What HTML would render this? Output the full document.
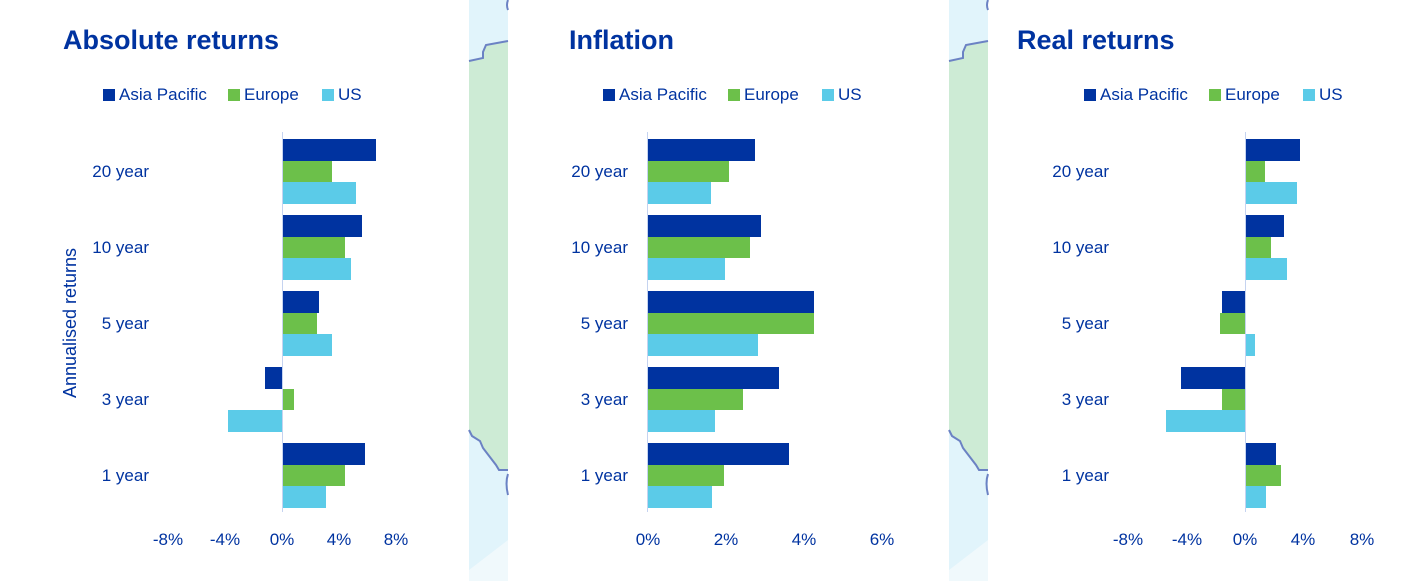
<!DOCTYPE html>
<html><head><meta charset="utf-8"><style>
body{margin:0;background:#fff;width:1422px;height:581px;overflow:hidden}
svg text{font-family:"Liberation Sans","DejaVu Sans",sans-serif;fill:#0033a0}
</style></head><body>
<svg width="1422" height="581" xmlns="http://www.w3.org/2000/svg">
<defs>
<g id="strip">
<rect x="469" y="0" width="39" height="581" fill="#e1f4fb"/>
<path d="M469 61 L483 58 L483 52 L486 45 L508 41 L508 470 L499 470 L496 465 L483 448 L480 441 L472 436 L469 430 Z" fill="#cdebd5"/>
<path d="M469 61 L483 58 L483 52 L486 45 L508 41" fill="none" stroke="#6b82c4" stroke-width="2"/>
<path d="M469 430 L472 436 L480 441 L483 448 L496 465 L499 470 L508 470" fill="none" stroke="#6b82c4" stroke-width="2"/>
<path d="M508 500 L508 540 L469 570 L469 581 L508 581 Z" fill="#f0f9fc"/>
<path d="M508 474 Q505 483 508 495" fill="none" stroke="#6b82c4" stroke-width="2"/>
<path d="M508 0 Q506 5 508 10" fill="none" stroke="#6b82c4" stroke-width="2"/>
</g>
</defs>
<use href="#strip"/>
<use href="#strip" transform="translate(480,0)"/>

<!-- titles -->
<text x="63" y="49" font-size="27" font-weight="bold">Absolute returns</text>
<text x="569" y="49" font-size="27" font-weight="bold">Inflation</text>
<text x="1017" y="49" font-size="27" font-weight="bold">Real returns</text>

<!-- legends -->
<g font-size="17">
<rect x="103" y="89" width="12" height="12" fill="#0033a0"/><text x="119" y="100">Asia Pacific</text>
<rect x="228" y="89" width="12" height="12" fill="#6cc04a"/><text x="244" y="100">Europe</text>
<rect x="322" y="89" width="12" height="12" fill="#5bcbe8"/><text x="338" y="100">US</text>
<rect x="603" y="89" width="12" height="12" fill="#0033a0"/><text x="619" y="100">Asia Pacific</text>
<rect x="728" y="89" width="12" height="12" fill="#6cc04a"/><text x="744" y="100">Europe</text>
<rect x="822" y="89" width="12" height="12" fill="#5bcbe8"/><text x="838" y="100">US</text>
<rect x="1084" y="89" width="12" height="12" fill="#0033a0"/><text x="1100" y="100">Asia Pacific</text>
<rect x="1209" y="89" width="12" height="12" fill="#6cc04a"/><text x="1225" y="100">Europe</text>
<rect x="1303" y="89" width="12" height="12" fill="#5bcbe8"/><text x="1319" y="100">US</text>
</g>

<!-- category labels -->
<g font-size="17" text-anchor="end">
<text x="149" y="177">20 year</text><text x="149" y="253">10 year</text><text x="149" y="329">5 year</text><text x="149" y="405">3 year</text><text x="149" y="481">1 year</text>
<text x="628" y="177">20 year</text><text x="628" y="253">10 year</text><text x="628" y="329">5 year</text><text x="628" y="405">3 year</text><text x="628" y="481">1 year</text>
<text x="1109" y="177">20 year</text><text x="1109" y="253">10 year</text><text x="1109" y="329">5 year</text><text x="1109" y="405">3 year</text><text x="1109" y="481">1 year</text>
</g>
<text transform="translate(76,323) rotate(-90)" font-size="18" text-anchor="middle">Annualised returns</text>

<!-- tick labels -->
<g font-size="17" text-anchor="middle">
<text x="168" y="545">-8%</text><text x="225" y="545">-4%</text><text x="282" y="545">0%</text><text x="339" y="545">4%</text><text x="396" y="545">8%</text>
<text x="648" y="545">0%</text><text x="726" y="545">2%</text><text x="804" y="545">4%</text><text x="882" y="545">6%</text>
<text x="1128" y="545">-8%</text><text x="1187" y="545">-4%</text><text x="1245" y="545">0%</text><text x="1303" y="545">4%</text><text x="1362" y="545">8%</text>
</g>

<!-- axes -->
<rect x="282" y="132" width="1" height="380" fill="#c5d3f0"/>
<rect x="647" y="132" width="1" height="380" fill="#c5d3f0"/>
<rect x="1245" y="132" width="1" height="380" fill="#c5d3f0"/>

<!-- panel 1 bars -->
<g>
<rect x="283" y="139" width="93" height="22" fill="#0033a0"/><rect x="283" y="161" width="49" height="21" fill="#6cc04a"/><rect x="283" y="182" width="73" height="22" fill="#5bcbe8"/>
<rect x="283" y="215" width="79" height="22" fill="#0033a0"/><rect x="283" y="237" width="62" height="21" fill="#6cc04a"/><rect x="283" y="258" width="68" height="22" fill="#5bcbe8"/>
<rect x="283" y="291" width="36" height="22" fill="#0033a0"/><rect x="283" y="313" width="34" height="21" fill="#6cc04a"/><rect x="283" y="334" width="49" height="22" fill="#5bcbe8"/>
<rect x="265" y="367" width="17" height="22" fill="#0033a0"/><rect x="283" y="389" width="11" height="21" fill="#6cc04a"/><rect x="228" y="410" width="54" height="22" fill="#5bcbe8"/>
<rect x="283" y="443" width="82" height="22" fill="#0033a0"/><rect x="283" y="465" width="62" height="21" fill="#6cc04a"/><rect x="283" y="486" width="43" height="22" fill="#5bcbe8"/>
</g>
<!-- panel 2 bars -->
<g>
<rect x="648" y="139" width="107" height="22" fill="#0033a0"/><rect x="648" y="161" width="81" height="21" fill="#6cc04a"/><rect x="648" y="182" width="63" height="22" fill="#5bcbe8"/>
<rect x="648" y="215" width="113" height="22" fill="#0033a0"/><rect x="648" y="237" width="102" height="21" fill="#6cc04a"/><rect x="648" y="258" width="77" height="22" fill="#5bcbe8"/>
<rect x="648" y="291" width="166" height="22" fill="#0033a0"/><rect x="648" y="313" width="166" height="21" fill="#6cc04a"/><rect x="648" y="334" width="110" height="22" fill="#5bcbe8"/>
<rect x="648" y="367" width="131" height="22" fill="#0033a0"/><rect x="648" y="389" width="95" height="21" fill="#6cc04a"/><rect x="648" y="410" width="67" height="22" fill="#5bcbe8"/>
<rect x="648" y="443" width="141" height="22" fill="#0033a0"/><rect x="648" y="465" width="76" height="21" fill="#6cc04a"/><rect x="648" y="486" width="64" height="22" fill="#5bcbe8"/>
</g>
<!-- panel 3 bars -->
<g>
<rect x="1246" y="139" width="54" height="22" fill="#0033a0"/><rect x="1246" y="161" width="19" height="21" fill="#6cc04a"/><rect x="1246" y="182" width="51" height="22" fill="#5bcbe8"/>
<rect x="1246" y="215" width="38" height="22" fill="#0033a0"/><rect x="1246" y="237" width="25" height="21" fill="#6cc04a"/><rect x="1246" y="258" width="41" height="22" fill="#5bcbe8"/>
<rect x="1222" y="291" width="23" height="22" fill="#0033a0"/><rect x="1220" y="313" width="25" height="21" fill="#6cc04a"/><rect x="1246" y="334" width="9" height="22" fill="#5bcbe8"/>
<rect x="1181" y="367" width="64" height="22" fill="#0033a0"/><rect x="1222" y="389" width="23" height="21" fill="#6cc04a"/><rect x="1166" y="410" width="79" height="22" fill="#5bcbe8"/>
<rect x="1246" y="443" width="30" height="22" fill="#0033a0"/><rect x="1246" y="465" width="35" height="21" fill="#6cc04a"/><rect x="1246" y="486" width="20" height="22" fill="#5bcbe8"/>
</g>
</svg>
</body></html>
